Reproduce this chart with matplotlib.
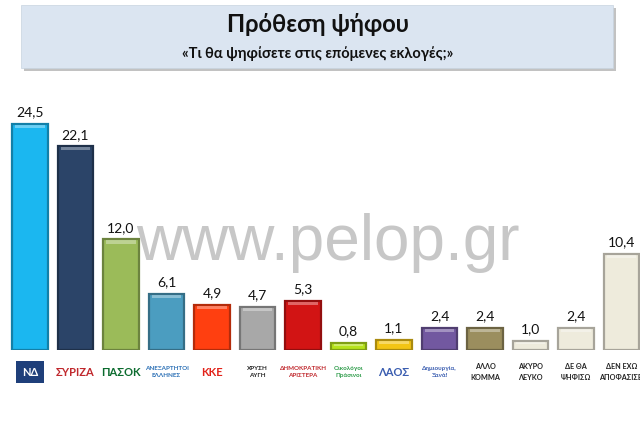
import matplotlib.pyplot as plt
import matplotlib.transforms as mtransforms
from matplotlib.patches import Rectangle
import matplotlib.colors as mcolors

plt.rcParams['font.family'] = ['Lato', 'DejaVu Sans']

parties = ["ΝΔ", "ΣΥΡΙΖΑ", "ΠΑΣΟΚ", "ΑΝΕΞΑΡΤΗΤΟΙ\nΕΛΛΗΝΕΣ", "ΚΚΕ", "ΧΡΥΣΗ\nΑΥΓΗ",
           "ΔΗΜΟΚΡΑΤΙΚΗ\nΑΡΙΣΤΕΡΑ", "Οικολόγοι\nΠράσινοι", "ΛΑΟΣ", "Δημιουργία,\nΞανά!",
           "ΑΛΛΟ\nΚΟΜΜΑ", "ΑΚΥΡΟ\nΛΕΥΚΟ", "ΔΕ ΘΑ\nΨΗΦΙΣΩ", "ΔΕΝ ΕΧΩ\nΑΠΟΦΑΣΙΣΕΙ"]
values = [24.5, 22.1, 12.0, 6.1, 4.9, 4.7, 5.3, 0.8, 1.1, 2.4, 2.4, 1.0, 2.4, 10.4]
bar_colors = ["#1bb7f0", "#2b4468", "#9bbb59", "#4b9dc0", "#ff3f10", "#a8a8a8", "#d21414",
              "#b6e31c", "#f3c515", "#7258a0", "#9b8e5e", "#eeebdc", "#eeebdc", "#eeebdc"]
label_colors = ["#ffffff", "#c0282d", "#0b6b2e", "#2a6fb5", "#e2231a", "#222222",
                "#c0282d", "#2c9b48", "#3a5db0", "#3a5db0",
                "#222222", "#222222", "#222222", "#222222"]

fig = plt.figure(figsize=(6.4, 4.26), dpi=100)

# title box with shadow
shadow = Rectangle((24 / 640, 1 - 71 / 426), 592 / 640, 63 / 426, transform=fig.transFigure,
                   facecolor="#9a9a9a", edgecolor="none", alpha=0.6)
box = Rectangle((21 / 640, 1 - 68 / 426), 592 / 640, 63 / 426, transform=fig.transFigure,
                facecolor="#dbe5f1", edgecolor="#c8d3e0", linewidth=0.5)
fig.patches.extend([shadow, box])
fig.text(0.497, 1 - 25 / 426, "Πρόθεση ψήφου", ha="center", va="center",
         fontsize=17, fontweight="bold", color="#111111")
fig.text(0.497, 1 - 54 / 426, "«Τι θα ψηφίσετε στις επόμενες εκλογές;»", ha="center", va="center",
         fontsize=10.5, fontweight="bold", color="#111111")

px_per_unit = 9.22
ax = fig.add_axes([0, 76 / 426, 1, 30 * px_per_unit / 426])
ax.set_xlim(-30 / 45.5, 610 / 45.5)
ax.set_ylim(0, 30)
ax.axis("off")

for i, (v, c) in enumerate(zip(values, bar_colors)):
    edge = tuple(0.7 * k for k in mcolors.to_rgb(c))
    ax.bar(i, v, width=0.79, color=c, edgecolor=edge, linewidth=1.6, zorder=3)
    # light bevel on top
    h = min(0.35, v * 0.3)
    ax.bar(i, h, bottom=v - h - 0.1, width=0.65, color="white", alpha=0.35,
           linewidth=0, zorder=4)
    ax.text(i, v + 0.6, f"{v:.1f}".replace(".", ","), ha="center", va="bottom",
            fontsize=10, color="#111111", zorder=5)

# watermark
fig.text(0.513, 1 - 243 / 426, "www.pelop.gr", ha="center", va="center",
         fontsize=46, color="#bdbdbd", alpha=0.85, family="Liberation Sans", zorder=10)

# category labels under the bars
trans = mtransforms.blended_transform_factory(ax.transData, fig.transFigure)
y = 1 - 372 / 426
for i, name in enumerate(parties):
    if i == 0:
        ax.text(i, y, name, transform=trans, ha="center", va="center", fontsize=8,
                fontweight="bold", color="white",
                bbox=dict(boxstyle="square,pad=0.5", facecolor="#1f3f7a", edgecolor="none"))
    elif i >= 10:
        ax.text(i, y, name, transform=trans, ha="center", va="center", fontsize=5.2,
                fontweight="bold", color=label_colors[i], linespacing=1.6)
    else:
        fs = 8 if len(name) <= 6 else 4.5
        ax.text(i, y, name, transform=trans, ha="center", va="center", fontsize=fs,
                fontweight="bold", color=label_colors[i], linespacing=1.3)

fig.savefig("out.png", dpi=100)
